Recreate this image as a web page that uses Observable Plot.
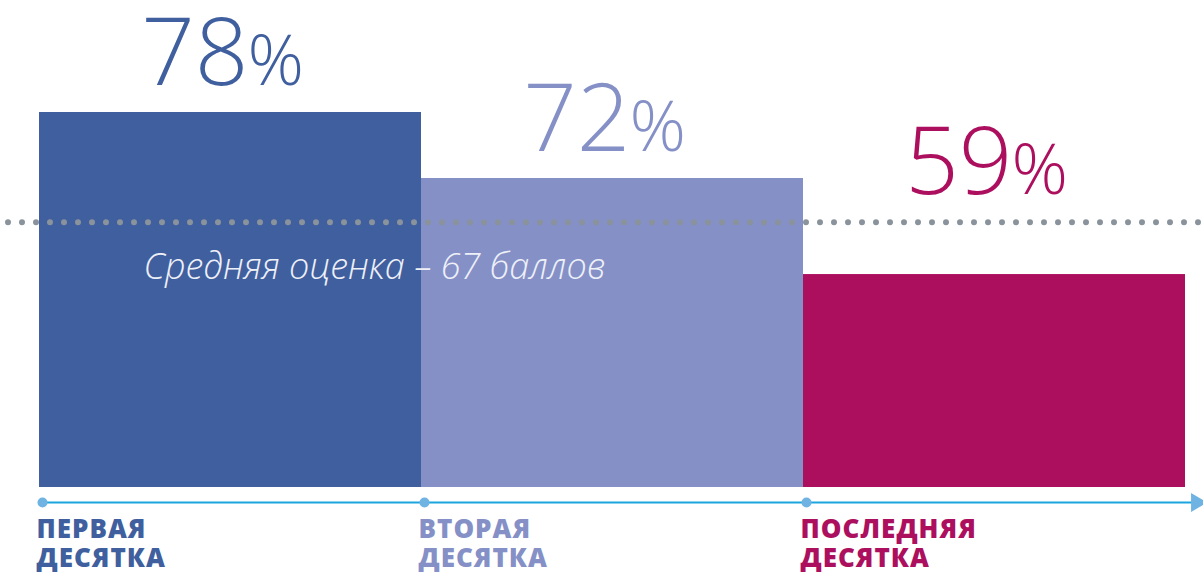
<!DOCTYPE html>
<html><head><meta charset="utf-8">
<script src="https://cdn.jsdelivr.net/npm/d3@7"></script>
<script src="https://cdn.jsdelivr.net/npm/@observablehq/plot@0.6"></script>
<style>html,body{margin:0;padding:0;background:#fff}svg{display:block}</style>
</head><body><div id="chart"></div>
<script>
const categories = ["ПЕРВАЯ\nДЕСЯТКА", "ВТОРАЯ\nДЕСЯТКА", "ПОСЛЕДНЯЯ\nДЕСЯТКА"];
const values = [78, 72, 59];
const average = 67;
const averageLabel = "Средняя оценка – 67 баллов";
const palette = ["#405f9e", "#8590c7", "#ad0f5f"];
const axisPositions = [0, 1, 2];

const data = categories.map((c, i) => ({cat: c, value: values[i], i}));
// The infographic's bars are not drawn to a linear scale; a steep power scale
// with a low baseline reproduces their relative heights.
const yBase = -67.37;
const axisBlue = "#1aa6df", dotBlue = "#6fb3e2";

const chart = Plot.plot({
  width: 1203, height: 572, margin: 0,
  style: {background: "#fff"},
  x: {domain: [0, 3], range: [39, 1185], axis: null},
  y: {type: "pow", exponent: 4, domain: [yBase, 78], range: [487, 112], axis: null},
  color: {domain: categories, range: palette},
  marks: [
    Plot.rectY(data, {x1: "i", x2: d => d.i + 1, y1: yBase, y2: "value", fill: "cat"}),
    Plot.ruleY([average], {stroke: "#8a939b", strokeWidth: 6, strokeLinecap: "round", strokeDasharray: "0 14", dx: 8}),
    Plot.text([averageLabel], {x: 1, y: average, text: d => d, dx: -47, dy: 45, fontSize: 36, fontStyle: "italic", fontWeight: 300, fill: "#eef0f8", fontFamily: "Open Sans"}),
    Plot.text(data, {x: d => d.i + 0.5, y: d => Math.max(d.value, average), text: d => String(d.value), textAnchor: "end", lineAnchor: "bottom", dx: 18, dy: -28, fontSize: 94, fontWeight: 300, fontFamily: "Open Sans", fill: "cat"}),
    Plot.text(data, {x: d => d.i + 0.5, y: d => Math.max(d.value, average), text: d => "%", textAnchor: "start", lineAnchor: "bottom", dx: 17, dy: -28, fontSize: 70, fontWeight: 300, fontFamily: "Open Sans", fill: "cat"}),
    Plot.ruleY([yBase], {x1: 0, x2: 3, dy: 15, stroke: axisBlue, strokeWidth: 2, insetRight: -10}),
    Plot.dot(axisPositions, {x: d => d, y: yBase, dy: 15, dx: 3, r: 5, fill: dotBlue}),
    Plot.dot([3], {x: d => d, y: yBase, dx: 11, dy: 15, symbol: "triangle", rotate: 90, r: 7, fill: dotBlue}),
    Plot.text(data, {x: "i", y: yBase, dy: 30, dx: -3, text: "cat", textAnchor: "start", lineAnchor: "top", fontSize: 26, fontWeight: 800, fontFamily: "Open Sans", lineHeight: 1.12, fill: "cat"})
  ]
});
d3.select(chart).selectAll('g[font-weight="800"]').attr("letter-spacing", "1px");
document.getElementById("chart").append(chart);
</script>
</body></html>
